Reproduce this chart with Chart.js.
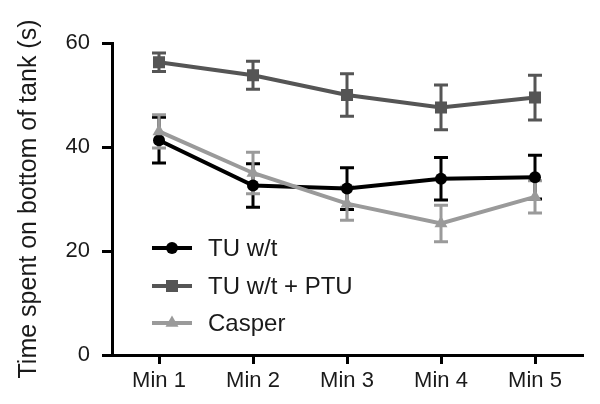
<!DOCTYPE html>
<html>
<head>
<meta charset="utf-8">
<script src="https://cdn.jsdelivr.net/npm/chart.js@4/dist/chart.umd.min.js"></script>
<style>
  html, body { margin: 0; padding: 0; background: #fff; }
  #wrap { width: 600px; height: 404px; }
</style>
</head>
<body>
<div id="wrap"><canvas id="chart"></canvas></div>
<script>
const categories = ['Min 1', 'Min 2', 'Min 3', 'Min 4', 'Min 5'];

const tuWt = [41.3, 32.6, 32.0, 33.9, 34.2];
const tuWtErr = [4.4, 4.2, 4.0, 4.1, 4.2];

const tuWtPtu = [56.3, 53.8, 50.0, 47.6, 49.5];
const tuWtPtuErr = [1.8, 2.7, 4.1, 4.3, 4.3];

const casper = [43.0, 35.0, 29.1, 25.3, 30.4];
const casperErr = [3.2, 4.0, 3.2, 3.5, 3.1];

const yTicks = [0, 20, 40, 60];

const font = 'Liberation Sans, Arial, Helvetica, sans-serif';

// error bars drawn through the library's scales
const errorBars = {
    id: 'errorBars',
    beforeDatasetsDraw(chart) {
        const { ctx, scales: { x, y } } = chart;
        chart.data.datasets.forEach((ds) => {
            ctx.save();
            ctx.strokeStyle = ds.borderColor;
            ctx.lineWidth = 3;
            ds.data.forEach((v, i) => {
                const e = ds.errors[i];
                const px = x.getPixelForValue(i);
                const top = y.getPixelForValue(v + e);
                const bot = y.getPixelForValue(v - e);
                ctx.beginPath();
                ctx.moveTo(px, top);
                ctx.lineTo(px, bot);
                ctx.moveTo(px - 7, top);
                ctx.lineTo(px + 7, top);
                ctx.moveTo(px - 7, bot);
                ctx.lineTo(px + 7, bot);
                ctx.stroke();
            });
            ctx.restore();
        });
    }
};

// legend with line + marker, as in the figure
const lineLegend = {
    id: 'lineLegend',
    afterDraw(chart) {
        const { ctx } = chart;
        const rows = [248, 286, 323];
        chart.data.datasets.forEach((ds, i) => {
            const yy = rows[i];
            ctx.save();
            ctx.strokeStyle = ds.borderColor;
            ctx.lineWidth = 4;
            ctx.beginPath();
            ctx.moveTo(152, yy);
            ctx.lineTo(192, yy);
            ctx.stroke();
            ctx.fillStyle = ds.borderColor;
            Chart.helpers.drawPoint(ctx, {
                pointStyle: ds.pointStyle,
                radius: ds.pointRadius,
                borderWidth: 0
            }, 172, yy);
            ctx.fillStyle = '#1a1a1a';
            ctx.font = '24px ' + font;
            ctx.textBaseline = 'middle';
            ctx.textAlign = 'left';
            ctx.fillText(ds.label, 208, yy + 1);
            ctx.restore();
        });
    }
};

const mkDataset = (label, data, errors, color, style, radius) => ({
    label,
    data,
    errors,
    borderColor: color,
    backgroundColor: color,
    pointBackgroundColor: color,
    pointBorderColor: color,
    pointBorderWidth: 0,
    pointStyle: style,
    pointRadius: radius,
    borderWidth: 4,
    tension: 0,
    fill: false
});

new Chart(document.getElementById('chart'), {
    type: 'line',
    data: {
        labels: categories,
        datasets: [
            { ...mkDataset('TU w/t', tuWt, tuWtErr, '#000000', 'circle', 6), order: 3 },
            { ...mkDataset('TU w/t + PTU', tuWtPtu, tuWtPtuErr, '#555555', 'rect', 8.5), order: 2 },
            { ...mkDataset('Casper', casper, casperErr, '#9a9a9a', 'triangle', 7.5), order: 1 }
        ]
    },
    options: {
        responsive: true,
        maintainAspectRatio: false,
        animation: false,
        layout: { padding: { top: 43, right: 18, left: 0, bottom: 0 } },
        plugins: {
            legend: { display: false },
            tooltip: { enabled: false }
        },
        scales: {
            x: {
                type: 'category',
                offset: true,
                afterFit(scale) { scale.height = 49; },
                border: { display: true, color: '#000', width: 3 },
                grid: { drawOnChartArea: false, drawTicks: true, tickLength: 9, lineWidth: 3, color: '#000', offset: false },
                ticks: { color: '#1a1a1a', font: { family: font, size: 22 }, padding: 4, maxRotation: 0 }
            },
            y: {
                min: 0,
                max: 60,
                afterFit(scale) { scale.width = 112; },
                afterBuildTicks(scale) { scale.ticks = yTicks.map(v => ({ value: v })); },
                border: { display: true, color: '#000', width: 3 },
                grid: { drawOnChartArea: false, drawTicks: true, tickLength: 10, lineWidth: 3, color: '#000' },
                ticks: { color: '#1a1a1a', font: { family: font, size: 22 }, padding: 12 },
                title: {
                    display: true,
                    text: 'Time spent on bottom of tank (s)',
                    color: '#1a1a1a',
                    font: { family: font, size: 25 },
                    padding: { top: 14, bottom: 0 }
                }
            }
        }
    },
    plugins: [errorBars, lineLegend]
});
</script>
</body>
</html>
